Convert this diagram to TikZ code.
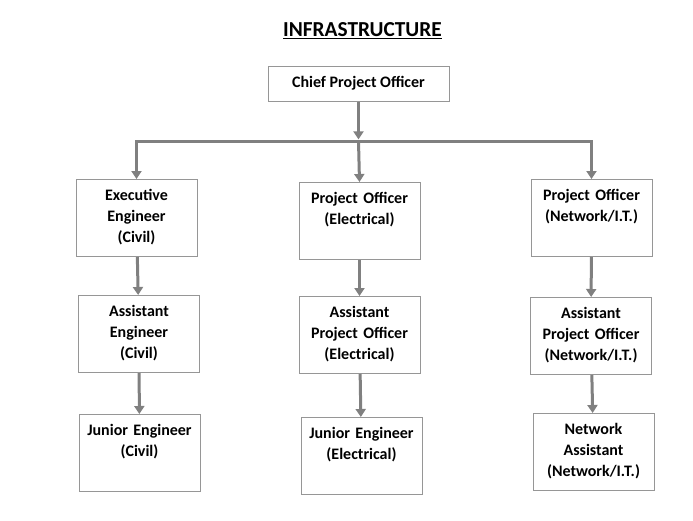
\documentclass[tikz,border=0pt]{standalone}
\usepackage{fontspec}
\setmainfont{Carlito}
\usetikzlibrary{arrows.meta}
\definecolor{boxgray}{RGB}{150,150,150}
\definecolor{arrowgray}{RGB}{128,128,128}
\tikzstyle{orgbox}=[draw=boxgray,line width=0.75pt,anchor=north,minimum width=90.75pt,text width=86pt,align=center,inner xsep=2pt,inner ysep=4pt,text height=12pt,text depth=37.75pt,font=\bfseries\fontsize{12}{15.75}\selectfont]
\tikzstyle{topbox}=[draw=boxgray,line width=0.75pt,minimum width=135.75pt,minimum height=26.25pt,font=\bfseries\fontsize{12}{14}\selectfont]
\tikzstyle{edge}=[draw=arrowgray,line width=2.25pt,-{Triangle[length=6pt,width=7.5pt]}]
\begin{document}
\begin{tikzpicture}[x=0.75pt,y=-0.75pt]
    \useasboundingbox (0,0) rectangle (693,521);

    \node (title) at (362.5,31) {\fontsize{16}{18}\selectfont\bfseries\underline{INFRASTRUCTURE}};
    \node[topbox] (chief) at (358.5,83.5) {Chief Project Officer};

    % columns of posts
    \foreach \pos/ \name / \label in {(136.5,179)/exec/{Executive\\Engineer\\(Civil)},
            (359.5,182)/elpo/{Project Officer\\(Electrical)},
            (591.5,179)/netpo/{Project Officer\\(Network/I.T.)},
            (139,295)/aee/{Assistant\\Engineer\\(Civil)},
            (359.5,296)/aepo/{Assistant\\Project Officer\\(Electrical)},
            (591,297)/anpo/{Assistant\\Project Officer\\(Network/I.T.)},
            (139.5,414)/je/{Junior Engineer\\(Civil)},
            (361.5,417)/jee/{Junior Engineer\\(Electrical)},
            (593.5,413)/na/{Network\\Assistant\\(Network/I.T.)}}
        \node[orgbox] (\name) at \pos {\label};

    % branch bar
    \coordinate (bar) at (358.5,141);
    \draw[edge,shorten >=1.2pt] (chief.south) -- (bar);
    \draw[edge] (bar) -| (exec.north);
    \draw[edge] (bar) -| (netpo.north);
    \draw[edge] (bar) -- (elpo.north);

    % Connect posts down each column
    \foreach \source/ \dest in {exec/aee,aee/je,elpo/aepo,aepo/jee,netpo/anpo,anpo/na}
        \draw[edge] (\source) -- (\dest);
\end{tikzpicture}
\end{document}
